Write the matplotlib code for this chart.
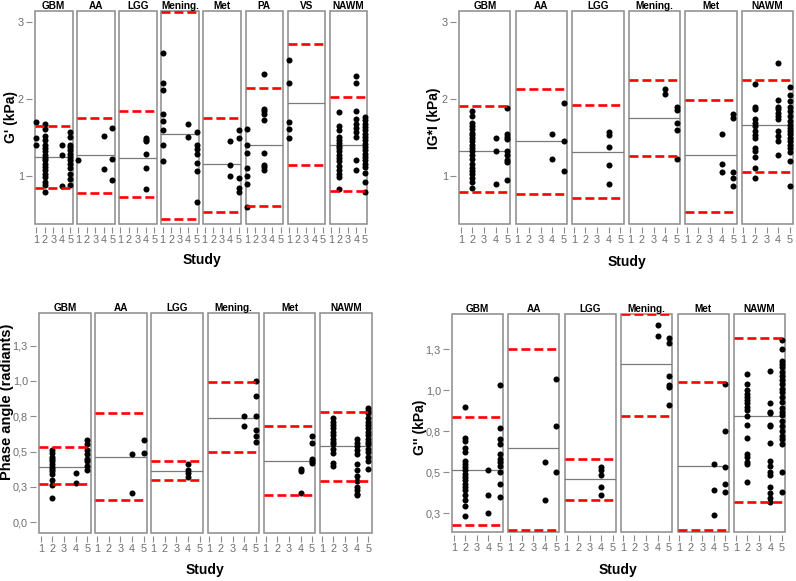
import matplotlib
matplotlib.use("Agg")
import matplotlib.pyplot as plt

plt.rcParams["font.family"] = ["Liberation Sans", "DejaVu Sans"]

W, H = 796, 581

# ---- G' (kPa) ----
GP_GROUPS = ["GBM", "AA", "LGG", "Mening.", "Met", "PA", "VS", "NAWM"]
GP_MEAN = [1.25, 1.27, 1.23, 1.55, 1.16, 1.41, 1.95, 1.41]
GP_LOW = [0.85, 0.78, 0.73, 0.44, 0.53, 0.61, 1.15, 0.81]
GP_HIGH = [1.65, 1.76, 1.84, 3.13, 1.76, 2.14, 2.71, 2.03]
GP_POINTS = [
    {1: [1.70, 1.50, 1.40],
     2: [1.68, 1.61, 1.52, 1.47, 1.40, 1.36, 1.32, 1.28, 1.24, 1.21, 1.16, 1.12,
         1.08, 1.03, 0.99, 0.93, 0.88, 0.80],
     4: [1.41, 1.28, 0.87],
     5: [1.57, 1.51, 1.41, 1.38, 1.34, 1.29, 1.25, 1.21, 1.16, 1.10, 1.03, 0.96, 0.88]},
    {1: [1.21], 4: [1.52, 1.09], 5: [1.63, 1.22, 0.95]},
    {4: [1.50, 1.47, 1.45, 1.29, 1.11, 0.83]},
    {1: [2.60, 2.21, 2.11, 1.80, 1.71, 1.60, 1.40, 1.20],
     4: [1.67, 1.51],
     5: [1.57, 1.40, 1.35, 1.29, 1.17, 1.07, 0.66]},
    {4: [1.45, 1.14, 1.00], 5: [1.60, 1.49, 0.97, 0.85, 0.80]},
    {1: [1.61, 1.41, 1.30, 1.11, 1.00, 0.90, 0.60],
     3: [2.32, 1.87, 1.84, 1.81, 1.73, 1.30, 1.15, 1.12, 1.08]},
    {1: [2.50, 2.21, 1.70, 1.61, 1.50]},
    {2: [1.83, 1.65, 1.60, 1.51, 1.47, 1.43, 1.39, 1.36, 1.32, 1.27, 1.23, 1.19,
         1.13, 1.08, 1.03, 0.99, 0.83],
     4: [2.30, 2.21, 1.85, 1.74, 1.68, 1.62, 1.57, 1.51, 1.21, 1.08],
     5: [1.77, 1.73, 1.68, 1.64, 1.60, 1.55, 1.51, 1.47, 1.42, 1.38, 1.34, 1.29,
         1.25, 1.21, 1.16, 1.12, 1.04, 0.93, 0.80]},
]

# ---- |G*| (kPa) ----
GS_GROUPS = ["GBM", "AA", "LGG", "Mening.", "Met", "NAWM"]
GS_MEAN = [1.32, 1.45, 1.31, 1.75, 1.28, 1.66]
GS_LOW = [0.80, 0.77, 0.72, 1.26, 0.53, 1.05]
GS_HIGH = [1.91, 2.13, 1.92, 2.24, 1.99, 2.25]
GS_POINTS = [
    {2: [1.84, 1.78, 1.69, 1.65, 1.61, 1.56, 1.53, 1.49, 1.46, 1.41, 1.37, 1.33,
         1.28, 1.22, 1.16, 1.11, 1.07, 1.03, 0.98, 0.92, 0.85],
     4: [1.50, 1.32, 0.90],
     5: [1.88, 1.55, 1.51, 1.48, 1.33, 1.27, 1.21, 1.18, 0.95]},
    {4: [1.55, 1.22], 5: [1.95, 1.45, 1.07]},
    {4: [1.57, 1.53, 1.38, 1.14, 0.90]},
    {4: [2.13, 2.06], 5: [1.89, 1.86, 1.69, 1.60, 1.22]},
    {4: [1.54, 1.16, 1.06], 5: [1.81, 1.76, 1.05, 0.98, 0.87]},
    {2: [2.20, 1.90, 1.87, 1.74, 1.69, 1.65, 1.59, 1.53, 1.50, 1.37, 1.33, 1.25,
         1.11, 0.98],
     4: [2.47, 1.99, 1.90, 1.87, 1.82, 1.78, 1.74, 1.59, 1.52, 1.45, 1.27],
     5: [2.16, 2.05, 1.97, 1.89, 1.84, 1.78, 1.72, 1.66, 1.63, 1.59, 1.54, 1.50,
         1.46, 1.41, 1.37, 1.31, 1.19, 0.87]},
]

# ---- Phase angle (radiants) ----
PH_GROUPS = ["GBM", "AA", "LGG", "Mening.", "Met", "NAWM"]
PH_MEAN = [0.39, 0.46, 0.36, 0.74, 0.43, 0.54]
PH_LOW = [0.27, 0.16, 0.30, 0.50, 0.19, 0.29]
PH_HIGH = [0.535, 0.77, 0.43, 0.99, 0.68, 0.78]
PH_POINTS = [
    {2: [0.51, 0.49, 0.46, 0.445, 0.43, 0.41, 0.39, 0.38, 0.36, 0.34, 0.30, 0.26, 0.17],
     4: [0.35, 0.28],
     5: [0.58, 0.55, 0.51, 0.48, 0.45, 0.43, 0.40, 0.37]},
    {4: [0.48, 0.21], 5: [0.58, 0.49]},
    {4: [0.41, 0.37, 0.35, 0.32]},
    {4: [0.75, 0.68], 5: [1.00, 0.89, 0.75, 0.65, 0.61, 0.57]},
    {4: [0.38, 0.36, 0.21], 5: [0.61, 0.56, 0.45, 0.43, 0.42]},
    {2: [0.74, 0.71, 0.69, 0.67, 0.64, 0.62, 0.59, 0.57, 0.55, 0.52, 0.49, 0.42, 0.40],
     4: [0.59, 0.56, 0.54, 0.51, 0.48, 0.41, 0.37, 0.33, 0.29, 0.25, 0.23, 0.20, 0.19],
     5: [0.81, 0.79, 0.77, 0.74, 0.71, 0.69, 0.67, 0.64, 0.62, 0.59, 0.57, 0.55,
         0.52, 0.50, 0.46, 0.43, 0.38]},
]

# ---- G'' (kPa) ----
GL_GROUPS = ["GBM", "AA", "LGG", "Mening.", "Met", "NAWM"]
GL_MEAN = [0.513, 0.65, 0.455, 1.16, 0.54, 0.84]
GL_LOW = [0.179, 0.146, 0.33, 0.845, 0.146, 0.32]
GL_HIGH = [0.839, 1.25, 0.58, 1.466, 1.05, 1.32]
GL_POINTS = [
    {2: [0.90, 0.71, 0.69, 0.65, 0.62, 0.57, 0.55, 0.53, 0.51, 0.49, 0.47, 0.45,
         0.43, 0.41, 0.39, 0.36, 0.33, 0.29, 0.23],
     4: [0.51, 0.36, 0.25],
     5: [1.03, 0.77, 0.70, 0.67, 0.61, 0.58, 0.56, 0.54, 0.50, 0.43, 0.35]},
    {4: [0.56, 0.33], 5: [1.07, 0.78, 0.50]},
    {4: [0.53, 0.51, 0.48, 0.41, 0.36]},
    {4: [1.40, 1.33], 5: [1.32, 1.29, 1.09, 1.03, 1.02, 0.91]},
    {4: [0.55, 0.39, 0.24], 5: [1.04, 0.75, 0.53, 0.43, 0.38]},
    {2: [1.10, 1.04, 1.00, 0.98, 0.96, 0.94, 0.92, 0.90, 0.88, 0.84, 0.79, 0.71,
         0.61, 0.59, 0.56, 0.55, 0.44],
     4: [1.12, 0.92, 0.87, 0.86, 0.79, 0.78, 0.68, 0.57, 0.54, 0.50, 0.48, 0.41,
         0.37, 0.34, 0.32],
     5: [1.31, 1.25, 1.18, 1.16, 1.14, 1.11, 1.09, 1.06, 1.04, 1.01, 0.99, 0.96,
         0.93, 0.89, 0.87, 0.85, 0.81, 0.78, 0.75, 0.72, 0.70, 0.67, 0.50, 0.38]},
]

STUDIES = [1, 2, 3, 4, 5]
KPA_TICKS = [1, 2, 3]
KPA_LABELS = ["1", "2", "3"]
FRAC_TICKS = [0.0, 0.25, 0.5, 0.75, 1.0, 1.25]
FRAC_LABELS = ["0,0", "0,3", "0,5", "0,8", "1,0", "1,3"]

GREY = "#8a8a8a"
TXT_GREY = "#6e6e6e"


def draw_group(fig, groups, mean, low, high, points, left0, step, width, top, bottom,
               ylim, yticks, ylabels):
    axes = []
    for i, name in enumerate(groups):
        x0 = left0 + i * step
        ax = fig.add_axes([x0 / W, 1 - bottom / H, width / W, (bottom - top) / H])
        for sp in ax.spines.values():
            sp.set_visible(False)
        ax.spines["bottom"].set_position(("outward", 2.5))
        ax.spines["left"].set_position(("outward", 2.5))
        ax.patch.set_edgecolor(GREY)
        ax.patch.set_linewidth(1.1)
        for st, vals in points[i].items():
            ax.scatter([st] * len(vals), vals, s=19, color="black", zorder=3,
                       linewidths=0, clip_on=False)
        ax.axhline(mean[i], color="#7a7a7a", lw=0.9, zorder=2)
        ax.axhline(low[i], color="#ff0000", lw=1.9, dashes=(3.4, 1.5), zorder=4)
        ax.axhline(high[i], color="#ff0000", lw=1.9, dashes=(3.4, 1.5), zorder=4)
        ax.set_xlim(0.85, 5.27)
        ax.set_ylim(*ylim)
        ax.set_xticks(STUDIES)
        ax.set_xticklabels([str(s) for s in STUDIES])
        ax.tick_params(axis="x", direction="out", length=4.5, width=0.8, color=GREY,
                       labelsize=7.8, labelcolor=TXT_GREY, pad=1)
        if i == 0:
            ax.set_yticks(yticks)
            ax.set_yticklabels(ylabels)
            ax.tick_params(axis="y", direction="out", length=4.5, width=0.8, color=GREY,
                           labelsize=7.8, labelcolor=TXT_GREY, pad=1)
        else:
            ax.set_yticks([])
        ax.set_title(name, fontsize=7.2, fontweight="bold", pad=1.5)
        axes.append(ax)
    return axes


def main() -> None:
    fig = plt.figure(figsize=(W / 100, H / 100), dpi=100)

    draw_group(fig, GP_GROUPS, GP_MEAN, GP_LOW, GP_HIGH, GP_POINTS,
               35, 42.1, 37.5, 11, 224, (0.38, 3.14), KPA_TICKS, KPA_LABELS)
    fig.text(11 / W, 1 - 117 / H, "G' (kPa)", rotation=90, ha="center", va="center",
             fontsize=10, fontweight="bold")
    fig.text(202 / W, 1 - 260 / H, "Study", ha="center", va="center",
             fontsize=10, fontweight="bold")

    draw_group(fig, GS_GROUPS, GS_MEAN, GS_LOW, GS_HIGH, GS_POINTS,
               459, 56.5, 51.5, 11, 224, (0.38, 3.14), KPA_TICKS, KPA_LABELS)
    fig.text(434 / W, 1 - 118 / H, "IG*I (kPa)", rotation=90, ha="center", va="center",
             fontsize=10, fontweight="bold")
    fig.text(627 / W, 1 - 262 / H, "Study", ha="center", va="center",
             fontsize=10, fontweight="bold")

    draw_group(fig, PH_GROUPS, PH_MEAN, PH_LOW, PH_HIGH, PH_POINTS,
               39, 56.2, 51.5, 313, 533, (-0.076, 1.48), FRAC_TICKS, FRAC_LABELS)
    fig.text(7 / W, 1 - 402 / H, "Phase angle (radiants)", rotation=90, ha="center",
             va="center", fontsize=10.5, fontweight="bold")
    fig.text(205 / W, 1 - 570 / H, "Study", ha="center", va="center",
             fontsize=10, fontweight="bold")

    draw_group(fig, GL_GROUPS, GL_MEAN, GL_LOW, GL_HIGH, GL_POINTS,
               452, 56.4, 51, 314, 532, (0.134, 1.466), FRAC_TICKS[1:], FRAC_LABELS[1:])
    fig.text(420 / W, 1 - 427 / H, "G'' (kPa)", rotation=90, ha="center", va="center",
             fontsize=10, fontweight="bold")
    fig.text(618 / W, 1 - 570 / H, "Study", ha="center", va="center",
             fontsize=10, fontweight="bold")

    fig.savefig("out.png", dpi=100, facecolor="white")
    plt.close(fig)


if __name__ == "__main__":
    main()
